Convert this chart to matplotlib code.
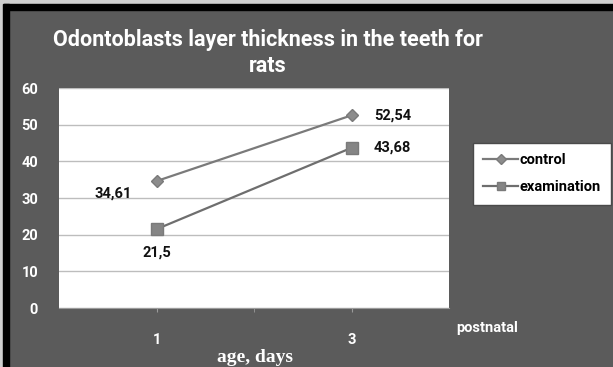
import matplotlib.pyplot as plt
from matplotlib.patches import Rectangle

# data
days = ["1", "3"]
control = [34.61, 52.54]
examination = [21.5, 43.68]
control_labels = ["34,61", "52,54"]
exam_labels = ["21,5", "43,68"]

plt.rcParams["font.family"] = ["Roboto", "DejaVu Sans"]

W, H = 613, 367
fig = plt.figure(figsize=(W / 100, H / 100), dpi=100)
fig.patch.set_facecolor("#5b5b5b")

# outer frame: light grey strip + black border (top/left)
fig.patches.append(Rectangle((0, 1 - 4 / H), 1, 4 / H, transform=fig.transFigure,
                             color="#cfcfcf", zorder=0))
fig.patches.append(Rectangle((0, 1 - 10 / H), 1, 6 / H, transform=fig.transFigure,
                             color="black", zorder=0))
fig.patches.append(Rectangle((0, 0), 3 / W, 1, transform=fig.transFigure,
                             color="#cfcfcf", zorder=0))
fig.patches.append(Rectangle((3 / W, 0), 6 / W, 1 - 4 / H, transform=fig.transFigure,
                             color="black", zorder=0))

left, right, top, bottom = 59, 449, 88, 308
ax = fig.add_axes([left / W, 1 - bottom / H, (right - left) / W, (bottom - top) / H])
ax.set_facecolor("white")

x = range(len(days))
ax.plot(x, control, color="#7a7a7a", lw=1.6, marker="D", markersize=6,
        markerfacecolor="#8c8c8c", markeredgecolor="#7a7a7a", label="control", zorder=3)
ax.plot(x, examination, color="#6e6e6e", lw=1.6, marker="s", markersize=8,
        markerfacecolor="#858585", markeredgecolor="#7a7a7a", label="examination", zorder=3)

ax.set_xlim(-0.5, 1.5)
ax.set_ylim(0, 60)
ax.set_yticks(range(0, 61, 10))
ax.set_xticks([0, 1])
ax.set_xticklabels(days)
ax.set_xticks([0.5], minor=True)
ax.grid(axis="y", color="#bdbdbd", lw=1)
ax.set_axisbelow(True)
for s in ax.spines.values():
    s.set_visible(False)
ax.spines["bottom"].set_visible(True)
ax.spines["bottom"].set_color("#9a9a9a")
ax.tick_params(axis="y", length=0, pad=15, labelcolor="white", labelsize=10.5)
ax.tick_params(axis="x", which="both", length=3, color="#9a9a9a", pad=15,
               labelcolor="white", labelsize=10.5)
for lab in ax.get_xticklabels() + ax.get_yticklabels():
    lab.set_fontweight("bold")

# data labels
fnt = dict(fontsize=10.5, fontweight="bold", color="#111111")
ax.annotate(control_labels[0], (0, control[0]), xytext=(-18, -9),
            textcoords="offset points", ha="right", va="center", **fnt)
ax.annotate(control_labels[1], (1, control[1]), xytext=(16, 0),
            textcoords="offset points", ha="left", va="center", **fnt)
ax.annotate(exam_labels[0], (0, examination[0]), xytext=(0, -17),
            textcoords="offset points", ha="center", va="center", **fnt)
ax.annotate(exam_labels[1], (1, examination[1]), xytext=(16, 0),
            textcoords="offset points", ha="left", va="center", **fnt)

fig.text(268 / W, 1 - 40 / H, "Odontoblasts layer thickness in the teeth for",
         ha="center", va="center", color="white", fontsize=15.5, fontweight="bold")
fig.text(268 / W, 1 - 66 / H, "rats", ha="center", va="center", color="white",
         fontsize=15.5, fontweight="bold")
fig.text(456 / W, 1 - 328 / H, "postnatal", ha="left", va="center", color="white",
         fontsize=10.5, fontweight="bold")
fig.text(255 / W, 1 - 358 / H, "age, days", ha="center", va="center", color="white",
         fontsize=14, fontweight="bold", family="Liberation Serif")

leg = fig.legend(loc="upper left", bbox_to_anchor=(473 / W, 1 - 143 / H),
                 frameon=True, fancybox=False, handlelength=2.4, handletextpad=0.1,
                 borderaxespad=0, labelspacing=0.9, borderpad=0.7, markerscale=0.8,
                 framealpha=1, prop={"weight": "bold", "size": 10.5})
leg.get_frame().set_facecolor("white")
leg.get_frame().set_edgecolor("#4a4a4a")
leg.get_frame().set_linewidth(1)

fig.savefig("out.png", dpi=100, facecolor=fig.get_facecolor())
